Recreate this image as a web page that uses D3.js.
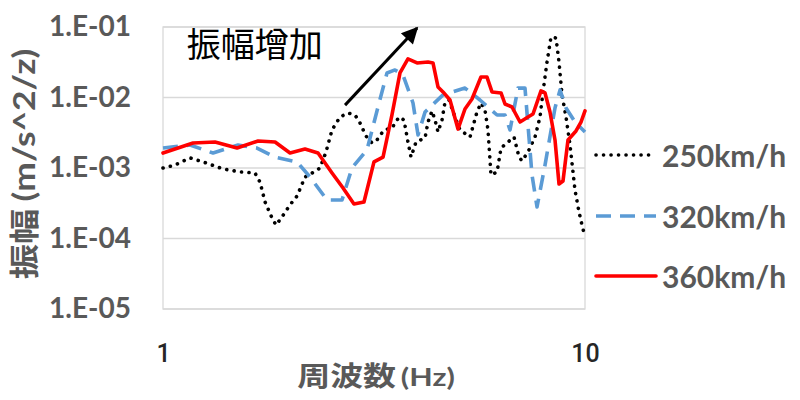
<!DOCTYPE html>
<html><head><meta charset="utf-8">
<script src="https://cdn.jsdelivr.net/npm/d3@7/dist/d3.min.js"></script>
<style>
html,body{margin:0;padding:0;background:#fff;}
svg{display:block;}
</style></head>
<body>
<svg id="chart" width="800" height="400"></svg>
<script>
// ---- data ----
const seriesNames = ["250km/h", "320km/h", "360km/h"];
const yTickValues = [1e-1, 1e-2, 1e-3, 1e-4, 1e-5];
const yTickLabels = ["1.E-01", "1.E-02", "1.E-03", "1.E-04", "1.E-05"];
const xTickValues = [1, 10];
const xTickLabels = ["1", "10"];

const f250 = [1.00,1.068,1.159,1.244,1.387,1.522,1.652,1.698,1.745,1.813,1.853,1.914,2.000,2.078,2.170,2.280,2.355,2.434,2.515,2.627,2.744,2.851,2.930,3.027,3.128,3.214,3.340,3.488,3.625,3.725,3.806,3.870,3.977,4.178,4.246,4.340,4.411,4.484,4.583,4.659,4.762,4.920,5.056,5.340,5.547,5.669,5.794,5.890,5.987,6.188,6.324,6.569,6.789,6.976,7.092,7.328,7.613,7.823,7.952,8.128,8.307,8.537,8.678,8.822,9.016,9.215,9.469,9.678,9.838,10.0];
const a250 = [1.0e-3,1.10e-3,1.39e-3,1.22e-3,9.7e-4,8.8e-4,8.5e-4,6.3e-4,3.3e-4,1.95e-4,1.55e-4,2.02e-4,3.0e-4,4.0e-4,7.45e-4,8.8e-4,1.0e-3,1.69e-3,3.46e-3,5.29e-3,6.03e-3,5.65e-3,4.35e-3,2.84e-3,2.26e-3,2.50e-3,3.46e-3,3.69e-3,5.29e-3,4.80e-3,2.34e-3,1.43e-3,2.34e-3,2.67e-3,4.49e-3,6.44e-3,4.80e-3,3.24e-3,4.80e-3,8.63e-3,9.22e-3,5.29e-3,3.46e-3,2.75e-3,6.23e-3,8.36e-3,6.65e-3,3.46e-3,7.96e-4,8.77e-4,1.92e-3,2.34e-3,2.75e-3,1.43e-3,1.26e-3,1.69e-3,2.75e-3,5.29e-3,1.20e-2,3.19e-2,7.21e-2,6.98e-2,3.19e-2,1.09e-2,5.29e-3,2.12e-3,4.87e-4,2.38e-4,1.55e-4,1.05e-4];

const f320 = [1.00,1.159,1.314,1.506,1.670,1.843,2.078,2.230,2.447,2.656,2.804,3.043,3.232,3.395,3.546,3.704,3.912,4.021,4.178,4.608,5.195,5.638,6.188,6.463,6.642,6.938,7.208,7.489,7.697,8.040,8.490,8.727,9.016,9.469,10.0];
const a320 = [1.92e-3,2.12e-3,1.63e-3,2.12e-3,1.92e-3,1.43e-3,1.22e-3,7.45e-4,3.52e-4,3.52e-4,1.0e-3,1.80e-3,7.33e-3,2.23e-2,2.46e-2,2.09e-2,8.36e-3,2.94e-3,6.23e-3,1.09e-2,1.36e-2,9.22e-3,5.65e-3,5.65e-3,3.46e-3,1.36e-2,1.36e-2,7.96e-4,2.80e-4,1.10e-3,7.10e-3,1.28e-2,7.10e-3,4.49e-3,3.24e-3];

const f360 = [1.00,1.178,1.328,1.498,1.680,1.843,2.000,2.170,2.330,2.515,2.671,2.835,2.994,3.162,3.322,3.488,3.644,3.806,3.999,4.246,4.363,4.484,4.608,4.787,5.001,5.195,5.398,5.669,5.858,6.020,6.324,6.463,6.714,7.015,7.328,7.530,7.866,8.040,8.261,8.490,8.678,8.869,9.114,9.521,9.784,10.0];
const a360 = [1.63e-3,2.26e-3,2.34e-3,1.92e-3,2.42e-3,2.34e-3,1.63e-3,1.86e-3,1.63e-3,8.5e-4,5.2e-4,3.08e-4,3.30e-4,1.22e-3,1.43e-3,5.65e-3,2.23e-2,3.52e-2,3.09e-2,3.19e-2,3.09e-2,1.41e-2,1.20e-2,9.22e-3,3.57e-3,6.87e-3,9.52e-3,1.95e-2,1.95e-2,1.20e-2,1.16e-2,8.09e-3,7.33e-3,4.49e-3,5.29e-3,5.83e-3,1.24e-2,1.16e-2,6.23e-3,2.50e-3,5.93e-4,6.55e-4,2.50e-3,3.35e-3,4.49e-3,6.44e-3];

const annotationText = "振幅增加";
const arrowFrom = [2.7, 7.8e-3];
const arrowTo = [4.0, 0.097];
const annotationPos = [1.65, 0.060];

// ---- layout ----
const plot = {left: 163, right: 585, top: 27, bottom: 309};
const svg = d3.select("#chart");

const x = d3.scaleLog().domain([1, 10]).range([plot.left, plot.right]);
const y = d3.scaleLog().domain([1e-5, 1e-1]).range([plot.bottom, plot.top]);

const grid = "#D9D9D9";
const tickColor = "#595959";

// gridlines
svg.append("g").selectAll("line").data(yTickValues).join("line")
  .attr("x1", plot.left).attr("x2", plot.right)
  .attr("y1", d => y(d)).attr("y2", d => y(d))
  .attr("stroke", grid).attr("stroke-width", 1.3);
// plot border
svg.append("rect").attr("x", plot.left).attr("y", plot.top)
  .attr("width", plot.right - plot.left).attr("height", plot.bottom - plot.top)
  .attr("fill", "none").attr("stroke", grid).attr("stroke-width", 1.3);

// y axis (labels only)
const yAxis = d3.axisLeft(y).tickValues(yTickValues)
  .tickFormat((d, i) => yTickLabels[i]).tickSize(0).tickPadding(32);
const gy = svg.append("g").attr("transform", `translate(${plot.left},0)`).call(yAxis);
gy.select(".domain").remove();
gy.selectAll("text").attr("fill", tickColor)
  .style("font-family", "Lato, 'Liberation Sans', sans-serif")
  .style("font-weight", "700").style("font-size", "28px");

// x axis (labels only)
const xAxis = d3.axisBottom(x).tickValues(xTickValues)
  .tickFormat((d, i) => xTickLabels[i]).tickSize(0).tickPadding(35);
const gx = svg.append("g").attr("transform", `translate(0,${plot.bottom})`).call(xAxis);
gx.select(".domain").remove();
gx.selectAll("text").attr("fill", "#262626")
  .style("font-family", "Roboto, 'Liberation Sans', sans-serif")
  .style("font-weight", "500").style("font-size", "25px");

// axis titles
svg.append("g").attr("transform", "translate(376,386) scale(1.22,1)")
  .append("text").attr("x", 0).attr("y", 0)
  .attr("text-anchor", "middle").attr("fill", tickColor)
  .style("font-family", "Lato, 'Noto Sans CJK JP', sans-serif")
  .style("font-weight", "700").style("font-size", "27px")
  .html('<tspan style="font-family:\'Noto Sans CJK JP\'">周波数</tspan><tspan dx="4" style="font-size:25px">(Hz)</tspan>');

svg.append("g").attr("transform", "translate(35,164) rotate(-90) scale(1.18,1)")
  .append("text").attr("x", 0).attr("y", 0)
  .attr("text-anchor", "middle").attr("fill", tickColor)
  .style("font-family", "Lato, 'Noto Sans CJK JP', sans-serif")
  .style("font-weight", "700").style("font-size", "30px")
  .html('<tspan style="font-family:\'Noto Sans CJK JP\'">振幅</tspan><tspan dx="6">(m/s^2/z)</tspan>');

// series
const series = [
  {name: seriesNames[0], f: f250, a: a250, color: "#000000", dash: "0.1,7.4", cap: "round", w: 3.6},
  {name: seriesNames[1], f: f320, a: a320, color: "#5B9BD5", dash: "15,9", cap: "butt", w: 3.6},
  {name: seriesNames[2], f: f360, a: a360, color: "#FF0000", dash: null, cap: "round", w: 3.6}
];
const line = d3.line().x(d => x(d[0])).y(d => y(d[1]));
series.forEach(s => {
  const pts = s.f.map((v, i) => [v, s.a[i]]);
  svg.append("path").datum(pts).attr("d", line)
    .attr("fill", "none").attr("stroke", s.color).attr("stroke-width", s.w)
    .attr("stroke-dasharray", s.dash).attr("stroke-linecap", s.cap)
    .attr("stroke-linejoin", "round");
});

// annotation arrow
const defs = svg.append("defs");
defs.append("marker").attr("id", "arr").attr("viewBox", "0 0 10 10")
  .attr("refX", 9).attr("refY", 5).attr("markerWidth", 6.5).attr("markerHeight", 5.5)
  .attr("markerUnits", "strokeWidth").attr("orient", "auto")
  .append("path").attr("d", "M0,0 L10,5 L0,10 z").attr("fill", "#000");
svg.append("line")
  .attr("x1", x(arrowFrom[0])).attr("y1", y(arrowFrom[1]))
  .attr("x2", x(arrowTo[0])).attr("y2", y(arrowTo[1]))
  .attr("stroke", "#000").attr("stroke-width", 3).attr("marker-end", "url(#arr)");
svg.append("text").attr("x", x(annotationPos[0])).attr("y", y(annotationPos[1]))
  .attr("text-anchor", "middle").attr("dominant-baseline", "central")
  .attr("fill", "#000")
  .style("font-family", "'Noto Sans CJK JP', sans-serif").style("font-size", "34px")
  .text(annotationText);

// legend
const legendY = [155, 216, 276];
const lg = svg.append("g");
series.forEach((s, i) => {
  lg.append("line").attr("x1", 596).attr("x2", 656)
    .attr("y1", legendY[i]).attr("y2", legendY[i])
    .attr("stroke", s.color).attr("stroke-width", s.w)
    .attr("stroke-dasharray", s.dash).attr("stroke-linecap", s.cap);
  lg.append("text").attr("x", 662).attr("y", legendY[i])
    .attr("dominant-baseline", "central").attr("fill", tickColor)
    .style("font-family", "Lato, 'Liberation Sans', sans-serif")
    .style("font-weight", "700").style("font-size", "30px")
    .text(s.name);
});
</script>
</body></html>
